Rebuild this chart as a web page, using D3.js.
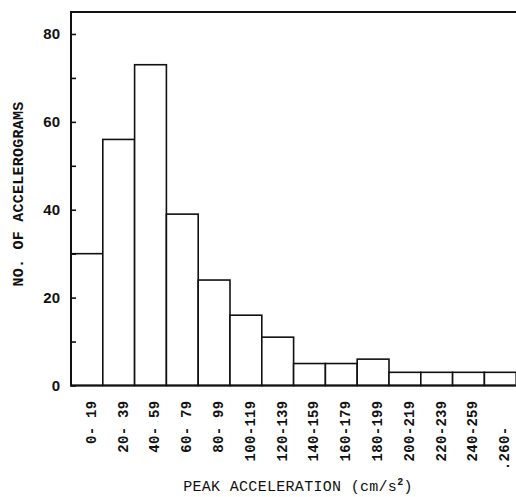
<!DOCTYPE html>
<html>
<head>
<meta charset="utf-8">
<script src="https://cdn.jsdelivr.net/npm/d3@7"></script>
<style>
  html, body { margin: 0; padding: 0; background: #fff; }
  svg { display: block; }
  text { white-space: pre; }
</style>
</head>
<body>
<svg id="chart" width="516" height="497"></svg>
<script>
// Peak acceleration classes (cm/s^2) and number of accelerograms in each
const classes = ["0- 19", "20- 39", "40- 59", "60- 79", "80- 99", "100-119", "120-139",
                 "140-159", "160-179", "180-199", "200-219", "220-239", "240-259",
                 ".260-\u00a0\u00a0\u00a0"];
const counts  = [30, 56, 73, 39, 24, 16, 11, 5, 5, 6, 3, 3, 3, 3];
const yTicks  = [0, 10, 20, 30, 40, 50, 60, 70, 80];

const svg = d3.select("#chart");
const plotLeft = 71, plotTop = 12, plotBottom = 385.5, plotRight = 516.2;
const ink = "#111";

const x = d3.scaleBand().domain(classes).range([plotLeft, plotRight]).padding(0);
const y = d3.scaleLinear().domain([0, 85]).range([plotBottom, plotTop]);

// histogram bars
svg.append("g")
  .selectAll("rect")
  .data(counts)
  .join("rect")
  .attr("x", (d, i) => x(classes[i]))
  .attr("y", d => y(d))
  .attr("width", x.bandwidth())
  .attr("height", d => y(0) - y(d))
  .attr("fill", "#fff")
  .attr("stroke", ink)
  .attr("stroke-width", 1.6);

// frame: top, left and base lines
svg.append("path")
  .attr("d", `M${plotRight},${plotTop} H${plotLeft} V${plotBottom} H${plotRight}`)
  .attr("fill", "none")
  .attr("stroke", ink)
  .attr("stroke-width", 2);

// y axis: inward ticks every 10, labels every 20
const yAxis = d3.axisLeft(y)
  .tickValues(yTicks)
  .tickSizeInner(-5)
  .tickSizeOuter(0)
  .tickPadding(11)
  .tickFormat(d => d % 20 === 0 ? d : "");
const gy = svg.append("g").attr("transform", `translate(${plotLeft},0)`).call(yAxis);
gy.select(".domain").remove();
gy.selectAll(".tick line").attr("stroke", ink).attr("stroke-width", 1.6);
gy.selectAll(".tick text")
  .attr("fill", ink)
  .style("font-family", "'Liberation Sans', Arial, sans-serif")
  .style("font-size", "15px")
  .style("font-weight", "bold");

// x axis class labels, rotated, padded so the dashes line up
const xAxis = d3.axisBottom(x).tickSize(0).tickPadding(0);
const gx = svg.append("g").attr("transform", `translate(0,${plotBottom})`).call(xAxis);
gx.select(".domain").remove();
gx.selectAll(".tick text")
  .attr("x", 0).attr("y", 0).attr("dy", "0.35em")
  .attr("text-anchor", "end")
  .attr("transform", "translate(4,15) rotate(-90)")
  .attr("fill", ink)
  .style("font-family", "'Liberation Mono', monospace")
  .style("font-size", "14px")
  .style("font-weight", "bold")
  .style("letter-spacing", "0.3px");

// axis titles
svg.append("text")
  .attr("transform", "translate(23,194) rotate(-90)")
  .attr("text-anchor", "middle")
  .attr("fill", ink)
  .style("font-family", "'Liberation Mono', monospace")
  .style("font-size", "15px")
  .style("font-weight", "bold")
  .style("letter-spacing", "0.25px")
  .text("NO. OF ACCELEROGRAMS");

const xt = svg.append("text")
  .attr("x", 298).attr("y", 491)
  .attr("text-anchor", "middle")
  .attr("fill", ink)
  .style("font-family", "'Liberation Mono', monospace")
  .style("font-size", "15px")
  .style("letter-spacing", "0.3px");
xt.append("tspan").text("PEAK ACCELERATION (cm/s");
xt.append("tspan").attr("dy", -6).style("font-size", "10px").style("font-weight", "bold").text("2");
xt.append("tspan").attr("dy", 6).text(")");
</script>
</body>
</html>
